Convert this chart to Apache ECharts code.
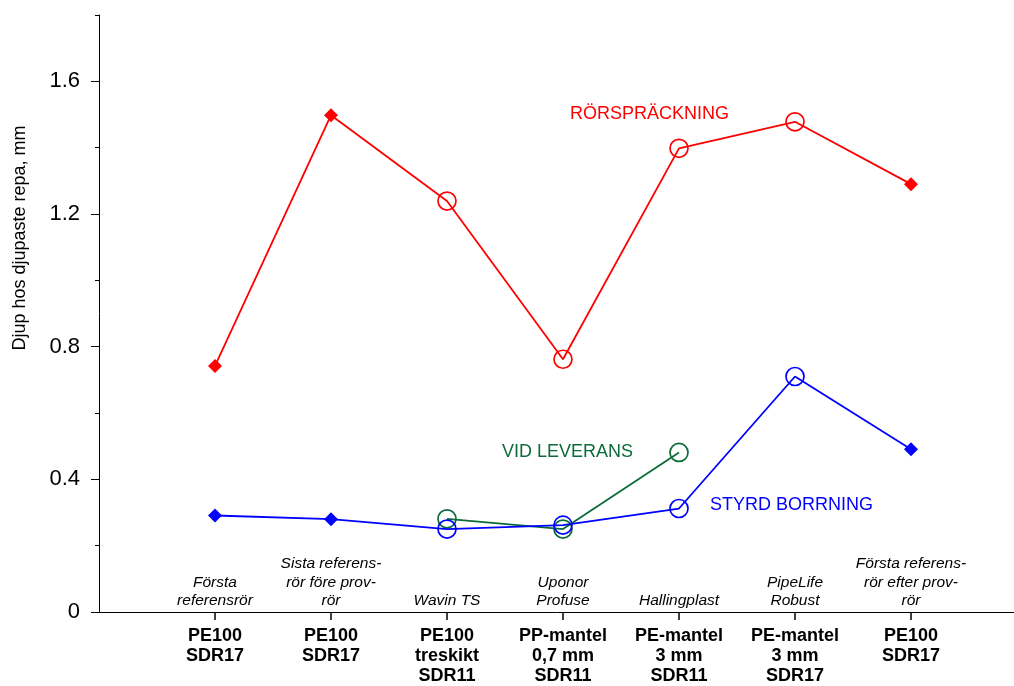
<!DOCTYPE html>
<html>
<head>
<meta charset="utf-8">
<script src="https://cdn.jsdelivr.net/npm/echarts@6/dist/echarts.min.js"></script>
<style>
html,body{margin:0;padding:0;background:#fff;}
#chart{width:1014px;height:686px;}
</style>
</head>
<body>
<div id="chart"></div>
<script>
// Category positions (1..7) and their labels
const positions = [1, 2, 3, 4, 5, 6, 7];
const materialLabels = [
  'PE100\nSDR17',
  'PE100\nSDR17',
  'PE100\ntreskikt\nSDR11',
  'PP-mantel\n0,7 mm\nSDR11',
  'PE-mantel\n3 mm\nSDR11',
  'PE-mantel\n3 mm\nSDR17',
  'PE100\nSDR17'
];
const productLabels = [
  'Första\nreferensrör',
  'Sista referens-\nrör före prov-\nrör',
  'Wavin TS',
  'Uponor\nProfuse',
  'Hallingplast',
  'PipeLife\nRobust',
  'Första referens-\nrör efter prov-\nrör'
];
// Series values
const rorsprackning = [0.742, 1.498, 1.239, 0.762, 1.398, 1.478, 1.290];
const rorsprackningMarker = ['diamond', 'diamond', 'circle', 'circle', 'circle', 'circle', 'diamond'];
const styrdBorrning = [0.291, 0.280, 0.250, 0.262, 0.312, 0.710, 0.491];
const styrdBorrningMarker = ['diamond', 'diamond', 'circle', 'circle', 'circle', 'circle', 'diamond'];
const vidLeveransPos = [3, 4, 5];
const vidLeverans = [0.281, 0.250, 0.481];
// Y ticks
const yMajorTicks = [0, 0.4, 0.8, 1.2, 1.6];
const yMinorTicks = [0.2, 0.6, 1.0, 1.4, 1.8];

const RED = '#ff0000', BLUE = '#0000ff', GREEN = '#0b6b3a';

function buildData(pos, vals, markers, color) {
  return vals.map((v, i) => {
    const m = markers ? markers[i] : 'circle';
    if (m === 'diamond') {
      return { value: [pos[i], v], symbol: 'diamond', symbolSize: 14,
               itemStyle: { color: color, borderWidth: 0 } };
    }
    return { value: [pos[i], v], symbol: 'circle', symbolSize: 18,
             itemStyle: { color: 'rgba(0,0,0,0)', borderColor: color, borderWidth: 1.7 } };
  });
}

const chart = echarts.init(document.getElementById('chart'), null, { renderer: 'canvas' });
const font = 'Liberation Sans, Arial, Helvetica, sans-serif';

const option = {
  backgroundColor: '#ffffff',
  animation: false,
  grid: { left: 99, top: 15, width: 915, height: 598, containLabel: false },
  xAxis: [
    {
      type: 'value', min: 0, max: 7.888, interval: 1,
      axisLine: { show: true, lineStyle: { color: '#000', width: 1 } },
      axisTick: { show: true, length: 8, customValues: positions, lineStyle: { color: '#000', width: 1.5 } },
      splitLine: { show: false },
      axisLabel: {
        customValues: positions, margin: 14,
        fontFamily: font, fontSize: 18, fontWeight: 'bold', color: '#000', lineHeight: 20,
        formatter: v => materialLabels[positions.indexOf(Math.round(v))] || ''
      }
    },
    {
      type: 'value', min: 0, max: 7.888, interval: 1, position: 'bottom',
      axisLine: { show: false }, axisTick: { show: false }, splitLine: { show: false },
      axisLabel: {
        inside: true, customValues: positions, margin: 2,
        fontFamily: font, fontSize: 15.5, fontStyle: 'italic', color: '#000', lineHeight: 18.5,
        formatter: v => productLabels[positions.indexOf(Math.round(v))] || ''
      }
    }
  ],
  yAxis: [
    {
      type: 'value', min: 0, max: 1.8, interval: 0.2, position: 'left',
      axisLine: { show: true, lineStyle: { color: '#000', width: 1 } },
      axisTick: { show: true, length: 4, customValues: yMinorTicks, lineStyle: { color: '#000' } },
      axisLabel: { show: false },
      splitLine: { show: false }
    },
    {
      type: 'value', min: 0, max: 1.8, interval: 0.2, position: 'left',
      axisLine: { show: false },
      axisTick: { show: true, length: 8, customValues: yMajorTicks, lineStyle: { color: '#000' } },
      axisLabel: {
        customValues: yMajorTicks, margin: 19,
        fontFamily: font, fontSize: 22, color: '#000',
        formatter: v => (v === 0 ? '0' : v.toFixed(1))
      },
      splitLine: { show: false }
    }
  ],
  series: [
    {
      name: 'RÖRSPRÄCKNING', type: 'line', xAxisIndex: 0, yAxisIndex: 0,
      data: buildData(positions, rorsprackning, rorsprackningMarker, RED),
      lineStyle: { color: RED, width: 1.8 }, itemStyle: { color: RED }, z: 3
    },
    {
      name: 'VID LEVERANS', type: 'line', xAxisIndex: 0, yAxisIndex: 0,
      data: buildData(vidLeveransPos, vidLeverans, null, GREEN),
      lineStyle: { color: GREEN, width: 1.8 }, itemStyle: { color: GREEN }, z: 2
    },
    {
      name: 'STYRD BORRNING', type: 'line', xAxisIndex: 0, yAxisIndex: 0,
      data: buildData(positions, styrdBorrning, styrdBorrningMarker, BLUE),
      lineStyle: { color: BLUE, width: 1.8 }, itemStyle: { color: BLUE }, z: 3
    }
  ],
  graphic: [
    { type: 'text', left: 570, top: 105, style: { text: 'RÖRSPRÄCKNING', fill: RED, font: '18px ' + font } },
    { type: 'text', left: 502, top: 443, style: { text: 'VID LEVERANS', fill: GREEN, font: '18px ' + font } },
    { type: 'text', left: 710, top: 496, style: { text: 'STYRD BORRNING', fill: BLUE, font: '18px ' + font } },
    { type: 'text', x: 20, y: 238, rotation: Math.PI / 2,
      style: { text: 'Djup hos djupaste repa, mm', fill: '#000', font: '18px ' + font, align: 'center', verticalAlign: 'middle' } }
  ]
};
chart.setOption(option);
</script>
</body>
</html>
